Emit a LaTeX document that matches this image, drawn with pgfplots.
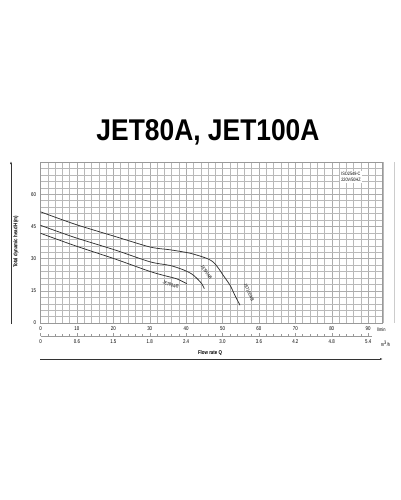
\documentclass[border=0pt]{standalone}
\usepackage{pgfplots}
\pgfplotsset{compat=1.18}
\usetikzlibrary{arrows.meta}
\usepackage{fontspec}
\setmainfont{Liberation Sans}
\newfontfamily\narrow{Liberation Sans}[FakeStretch=0.8]
\newfontfamily\titlefont{Liberation Sans}[FakeStretch=0.88]
\definecolor{curve}{HTML}{333333}

\begin{document}
\begin{tikzpicture}
\path[use as bounding box] (0pt,0pt) rectangle (400pt,-500pt);

% title
\node at (208pt,-132.5pt) {\titlefont\bfseries\fontsize{30}{32}\selectfont JET80A, JET100A};

% side arrows
\draw[curve, line width=0.6pt, -{Latex[length=3pt,width=2pt]}] (11pt,-324pt) -- (11pt,-161pt);
\draw[curve, line width=0.6pt, -{Latex[length=3pt,width=2pt]}] (40pt,-359pt) -- (383pt,-359pt);
\draw[gray!40, line width=0.6pt] (394pt,-162pt) -- (394pt,-323pt);
\node[rotate=90, font=\narrow\bfseries\fontsize{5.5}{6}\selectfont] at (16pt,-242pt) {Total dynamic head H(m)};
\node[font=\narrow\bfseries\fontsize{5.5}{6}\selectfont] at (210pt,-353pt) {Flow rate Q};

\begin{axis}[
  at={(40.5pt,-323pt)}, anchor=south west,
  scale only axis, width=342.2pt, height=161pt,
  xmin=0, xmax=94, ymin=0, ymax=75,
  xtick={0,10,...,90}, ytick={0,15,...,60},
  minor xtick={0,2,...,94}, minor ytick={0,3,...,75},
  grid=both,
  major grid style={gray!65, line width=0.4pt},
  minor grid style={gray!55, line width=0.35pt},
  axis line style={gray!80, line width=0.5pt},
  major tick length=0pt, minor tick length=0pt,
  tick label style={font=\narrow\fontsize{5.5}{6}\selectfont},
  /pgf/number format/assume math mode=true,
  xticklabel style={yshift=-0.5pt},
  yticklabel style={xshift=-1pt},
  clip=false,
]
\addplot[curve, line width=0.75pt, smooth, tension=0.5] coordinates {
 (0,51.8) (9.5,46) (20.5,40.3) (30.1,35.4) (35.6,34.1) (41.1,32.5)
 (45.7,30.1) (47.5,28.3) (48.8,25.7) (50.2,22.2) (52.1,17.5) (53.4,12.9) (54.8,8.3)};
\addplot[curve, line width=0.75pt, smooth, tension=0.5] coordinates {
 (0,45.5) (9.5,39.8) (20.5,34) (30.1,28.5) (35.6,26.8) (39.2,24.8)
 (41.5,22.9) (42.9,20.9) (44.3,18.3) (45,16.0)};
\addplot[curve, line width=0.75pt, smooth, tension=0.5] coordinates {
 (0,41.8) (9.5,36) (20.5,29.8) (30.1,24.0) (34.7,21.8) (37.4,20.6) (40.2,18.3)};

\node[rotate=-17, font=\narrow\fontsize{4.5}{5}\selectfont] at (axis cs:35.8,17.8) {JET80A/B};
\node[rotate=-55, font=\narrow\fontsize{4.5}{5}\selectfont] at (axis cs:45.6,23.6) {JET90A/B};
\node[rotate=-65, font=\narrow\fontsize{4.5}{5}\selectfont] at (axis cs:57.3,14.2) {JET100A/B};

\node[fill=white, inner sep=1.5pt, align=left, font=\narrow\fontsize{4.8}{5.8}\selectfont]
  at (axis cs:85.3,68) {ISO2548-C\\220V/50HZ};
\node[anchor=west, font=\narrow\fontsize{5}{6}\selectfont] at (axis cs:91.5,-2.9) {l/min};
\end{axis}

% second flow-rate scale in m3/h
\begin{axis}[
  at={(40.5pt,-336pt)}, anchor=south west,
  scale only axis, width=331.3pt, height=1pt,
  xmin=0, xmax=91, ymin=0, ymax=1,
  axis x line*=bottom, axis y line=none,
  x axis line style={gray!80, line width=0.5pt},
  xtick={0,10,...,90},
  xticklabels={0,0.6,1.5,1.8,2.4,3.0,3.6,4.2,4.8,5.4},
  minor xtick={0,2,...,90},
  tick align=inside,
  major tick length=3pt, minor tick length=2pt,
  tick style={gray!80, line width=0.4pt},
  tick label style={font=\narrow\fontsize{5.5}{6}\selectfont},
  xticklabel style={yshift=-0.5pt},
  clip=false,
]
\addplot[draw=none] coordinates {(0,0) (91,0)};
\node[anchor=west, font=\narrow\fontsize{5}{6}\selectfont] at (axis cs:92.5,-7.5) {m\textsuperscript{3}/h};
\end{axis}
\end{tikzpicture}
\end{document}
